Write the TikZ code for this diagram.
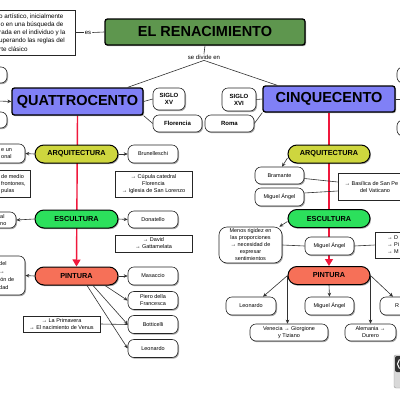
\documentclass[tikz,border=0pt]{standalone}
\usepackage{fontspec}
\setmainfont{Liberation Sans}
\usetikzlibrary{shapes.misc,shadows,arrows.meta,backgrounds,calc}
\definecolor{renac}{RGB}{94,150,78}
\definecolor{quat}{RGB}{128,128,246}
\definecolor{arqc}{RGB}{206,214,62}
\definecolor{escc}{RGB}{44,224,92}
\definecolor{pinc}{RGB}{246,112,88}
\definecolor{redl}{RGB}{240,24,60}
\definecolor{connc}{RGB}{50,50,50}
\tikzset{
 shad/.style={drop shadow={shadow xshift=1pt,shadow yshift=-1.2pt,opacity=0.35,fill=black}},
 title/.style={draw=black,line width=1.3pt,rounded corners=2.5pt,inner sep=0pt,font=\bfseries\fontsize{14.5}{15}\selectfont,shad},
 stad/.style={rounded rectangle,draw=black,line width=1pt,inner sep=0pt,minimum width=83pt,minimum height=18pt,font=\bfseries\fontsize{7.3}{8}\selectfont,shad},
 rnode/.style={draw=black!85,line width=0.6pt,rounded corners=6pt,fill=white,inner sep=0pt,align=center,font=\fontsize{5.5}{7}\selectfont,shad},
 bnode/.style={rnode,font=\bfseries\fontsize{6}{7}\selectfont},
 rbox/.style={draw=black!85,line width=0.6pt,fill=white,inner sep=0pt,align=center,font=\fontsize{5.5}{7}\selectfont,shad},
 conn/.style={draw=connc,line width=0.6pt},
 arr/.style={conn,-{Stealth[length=4pt,width=3.5pt]}},
 lab/.style={font=\fontsize{6}{7}\selectfont,inner sep=1pt},
 frag/.style={inner sep=0pt,align=left,font=\fontsize{5.5}{7}\selectfont},
 redarr/.style={draw=redl,line width=1.4pt,-{Triangle[length=7pt,width=8pt]}},
}
\begin{document}
\begin{tikzpicture}[x=1pt,y=-1pt]
\useasboundingbox (0,0) rectangle (400,400);
\begin{scope}[on background layer]
\fill[white] (0,0) rectangle (400,400);
\end{scope}
\clip (0,0) rectangle (400,400);

% top
\node[rbox,minimum width=80pt,minimum height=45pt] (topbox) at (35,32.5) {};
\node[anchor=west,align=left,inner sep=0pt,font=\fontsize{6.3}{8.2}\selectfont] (toptext) at (-1,32.5) {o artístico, inicialmente\\lo en una búsqueda de\\rada en el individuo y la\\uperando las reglas del\\rte clásico};
\node[lab] (es) at (88,32.5) {es};
\node[title,fill=renac,minimum width=200pt,minimum height=26pt] (renac) at (205,32) {EL RENACIMIENTO};
\node[lab] (div) at (204,57) {se divide en};

\node[title,fill=quat,minimum width=131pt,minimum height=27pt] (quat) at (77.5,101.5) {QUATTROCENTO};
\node[title,fill=quat,minimum width=132pt,minimum height=26pt] (cinq) at (329,99) {CINQUECENTO};

\node[bnode,minimum width=32pt,minimum height=22pt] (s15) at (169,99) {SIGLO\\XV};
\node[bnode,minimum width=49pt,minimum height=17pt] (flor) at (177.5,123.5) {Florencia};
\node[bnode,minimum width=49pt,minimum height=17pt] (roma) at (229.5,123.5) {Roma};
\node[bnode,minimum width=34pt,minimum height=23pt] (s16) at (239,99.5) {SIGLO\\XVI};

% edge fragments
\node[rnode,minimum width=47pt,minimum height=16pt] (lp1) at (-16.5,75) {};
\node[rnode,minimum width=47pt,minimum height=16pt] (lp2) at (-16.5,120) {};
\node[rnode,minimum width=43pt,minimum height=16pt] (rp1) at (418.5,75) {};
\node[rnode,minimum width=43pt,minimum height=16pt] (rp2) at (418.5,128) {};
\coordinate (lin) at (-2,101);
\coordinate (rout) at (402,99);

% left branch
\node[stad,fill=arqc] (arq1) at (76.5,154) {ARQUITECTURA};
\node[stad,fill=escc] (esc1) at (76.5,219) {ESCULTURA};
\node[stad,fill=pinc] (pin1) at (76.5,276) {PINTURA};

\node[rnode,minimum width=55pt,minimum height=19pt] (la1) at (-2.5,153.5) {};
\node[frag,anchor=west] (la1t) at (1,153.5) {e un\\onal};
\node[rbox,minimum width=60pt,minimum height=27pt] (la2) at (0,183.5) {};
\node[frag,anchor=west] (la2t) at (1,184) {de medio\\frontones,\\pulas};
\node[rnode,minimum width=46pt,minimum height=16pt] (la3) at (-7,220) {};
\node[frag,anchor=west] (la3t) at (0,220) {al\\no};
\node[rnode,minimum width=55pt,minimum height=39pt] (la4) at (-2.5,275.5) {};
\node[frag,anchor=west,font=\fontsize{5.5}{8}\selectfont] (la4t) at (-1,276) {del\\→\\ión de\\dad};

\node[rnode,minimum width=50pt,minimum height=18pt] (brun) at (153,154) {Brunelleschi};
\node[rbox,minimum width=77pt,minimum height=26pt] (brunbox) at (153.5,184) {→ Cúpula catedral\\Florencia\\→ Iglesia de San Lorenzo};
\node[rnode,minimum width=50pt,minimum height=17pt] (don) at (153,219.5) {Donatello};
\node[rbox,minimum width=77pt,minimum height=17pt] (donbox) at (153.5,243.5) {→ David\\→ Gattamelata};
\node[rnode,minimum width=50pt,minimum height=18pt] (mas) at (153,276) {Masaccio};
\node[rnode,minimum width=50pt,minimum height=18pt] (piero) at (153,300.5) {Piero della\\Francesca};
\node[rnode,minimum width=50pt,minimum height=18pt] (botti) at (153,324.5) {Botticelli};
\node[rnode,minimum width=50pt,minimum height=18pt] (leo1) at (153,348.5) {Leonardo};
\node[rbox,minimum width=77pt,minimum height=16pt] (prim) at (61.5,324) {→ La Primavera\\→ El nacimiento de Venus};

% right branch
\node[stad,fill=arqc,minimum width=82pt] (arq2) at (329,154) {ARQUITECTURA};
\node[stad,fill=escc,minimum width=82pt] (esc2) at (329,218.5) {ESCULTURA};
\node[stad,fill=pinc,minimum width=82pt] (pin2) at (329,275.5) {PINTURA};

\node[rnode,minimum width=49pt,minimum height=17pt] (bram) at (279.5,175.5) {Bramante};
\node[rnode,minimum width=49pt,minimum height=18pt] (mig1) at (279.5,197) {Miguel Ángel};
\node[rbox,minimum width=74pt,minimum height=27pt] (bas) at (375,186.5) {};
\node[frag,anchor=west] (bast1) at (344.5,183) {→ Basílica de San Pe};
\node[frag] (bast2) at (375,190.5) {del Vaticano};
\node[rnode,rounded corners=8pt,minimum width=63pt,minimum height=36pt] (menos) at (250.5,245) {Menos rigidez en\\las proporciones\\→ necesidad de\\expresar\\sentimientos};
\node[rnode,minimum width=49pt,minimum height=18pt] (mig2) at (329.5,246) {Miguel Ángel};
\node[rbox,minimum width=54pt,minimum height=26pt] (obr) at (402,245) {};
\node[frag,anchor=west] (obrt) at (387,245) {→ D\\→ Pi\\→ M};
\node[rnode,minimum width=50pt,minimum height=18pt] (leo2) at (251,306) {Leonardo};
\node[rnode,minimum width=49pt,minimum height=18pt] (mig3) at (329.5,306) {Miguel Ángel};
\node[rnode,minimum width=50pt,minimum height=18pt] (raf) at (405,306) {};
\node[frag,anchor=west] (raft) at (395,306) {R};
\node[rnode,minimum width=78pt,minimum height=17pt] (ven) at (289,332.5) {Venecia → Giorgione\\y Tiziano};
\node[rnode,minimum width=51pt,minimum height=17pt] (ale) at (370.5,332.5) {Alemania →\\Durero};

% cc badge
\node[draw=black!40,fill=black!15,rounded corners=2pt,minimum width=36pt,minimum height=33pt,inner sep=0pt] (cc) at (412,371.5) {};
\fill[black!80,rounded corners=2pt] (395,356) rectangle (430,372);
\node[circle,draw=white,line width=1pt,fill=black!80,minimum size=11pt,inner sep=0pt] (ccc) at (403,364) {};

% connectors
\draw[conn] (topbox.east) -- (es.west);
\draw[conn] (es.east) -- (renac.west);
\draw[conn] (renac.south) -- (div.north);
\draw[conn] (div.south) -- ([xshift=-16pt]quat.north east);
\draw[conn] (div.south) -- ([xshift=15pt]cinq.north west);
\draw[conn] (quat.east) -- (s15.west);
\draw[conn] (quat.south east) -- (flor.west);
\draw[conn] (s16.east) -- (cinq.west);
\draw[conn] (cinq.south west) -- (roma.east);
\draw[arr] (lin) -- (quat.west);
\draw[conn] (cinq.east) -- (rout);

\draw[arr] (arq1.west) -- (la1.east);
\draw[arr] (esc1.west) -- (la3.east);
\draw[arr] (pin1.west) -- (la4.east);
\draw[arr] (arq1.east) -- (brun.west);
\draw[arr] (esc1.east) -- (don.west);
\draw[arr] (pin1.east) -- (mas.west);
\draw[arr] ([xshift=28.5pt]pin1.south) -- (piero.west);
\draw[arr] ([xshift=16.5pt]pin1.south) -- (botti.west);
\draw[arr] ([xshift=10.5pt]pin1.south) -- (leo1.west);
\draw[conn] (prim.east) -- (botti.west);

\draw[arr] ([yshift=-4pt]arq2.west) -- ([xshift=2.5pt]bram.north);
\draw[conn] ([yshift=-3pt]bram.east) -- ([yshift=4.5pt]bas.west);
\draw[conn] ([yshift=4pt]mig1.east) -- ([yshift=-4.5pt]bas.west);
\draw[arr] ([yshift=-3pt]esc2.west) -- ([xshift=-3pt]menos.north east);
\draw[conn] (menos.east) -- (mig2.west);
\draw[conn] (mig2.east) -- (obr.west);
\draw[arr] (pin2.west) -- ([xshift=12pt]leo2.north);
\draw[arr] (pin2.south) -- (mig3.north);
\draw[arr] (pin2.east) -- ([xshift=-12pt]raf.north);
\draw[arr] (pin2.west) -- (pin2.west |- ven.north);
\draw[arr] (pin2.east) -- (pin2.east |- ale.north);

\begin{scope}[on background layer]
\draw[redarr] (quat.south) -- (pin1.north);
\draw[redarr] (cinq.south) -- (pin2.north);
\end{scope}
\end{tikzpicture}
\end{document}
